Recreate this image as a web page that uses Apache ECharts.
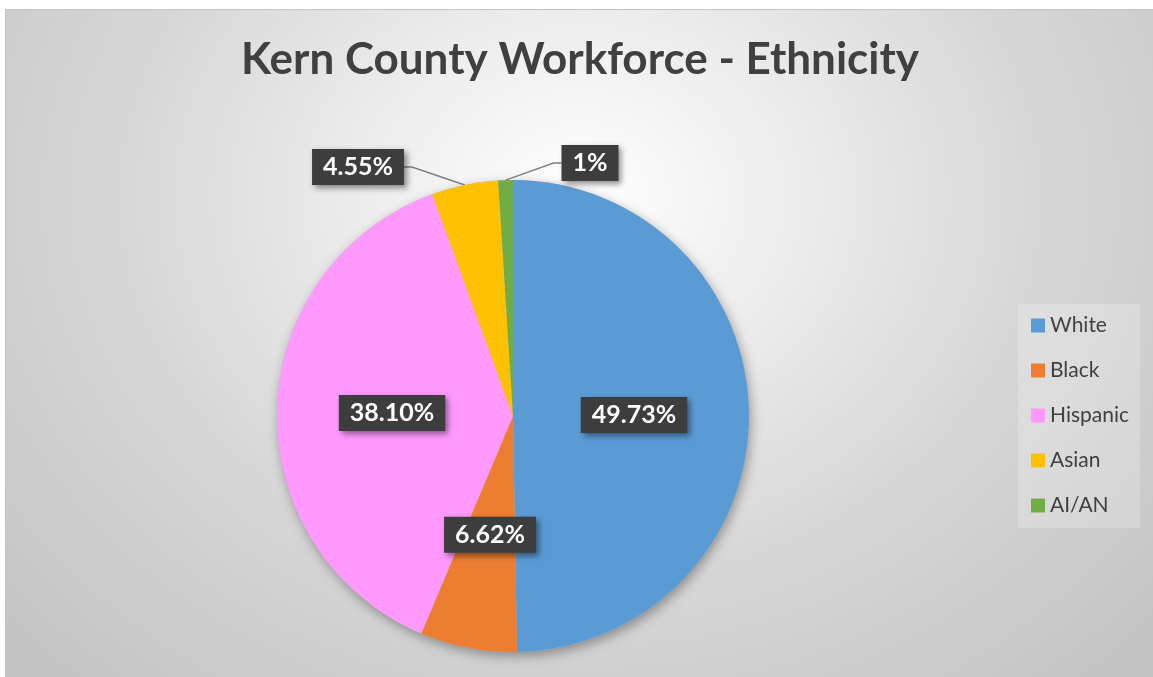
<!DOCTYPE html>
<html>
<head>
<meta charset="utf-8">
<script src="https://cdn.jsdelivr.net/npm/echarts@6/dist/echarts.min.js"></script>
<style>
  html, body { margin: 0; padding: 0; background: #fff; }
  #chart {
    position: absolute; left: 5px; top: 9px; width: 1148px; height: 668px;
    border-top: 1px solid #c4c4c4; border-left: 1px solid #c4c4c4;
    background: radial-gradient(ellipse farthest-corner at 50% 28%, #ffffff 0%, #f0f0f0 22%, #d6d6d6 58%, #c2c2c2 100%);
  }
</style>
</head>
<body>
<div id="chart"></div>
<script>
const categories = ['White', 'Black', 'Hispanic', 'Asian', 'AI/AN']
const shares = [49.73, 6.62, 38.10, 4.55, 1]
const sliceLabels = ['49.73%', '6.62%', '38.10%', '4.55%', '1%']
const colors = ['#5B9BD5', '#ED7D31', '#FF99FF', '#FFC000', '#70AD47']

const chart = echarts.init(document.getElementById('chart'), null, { renderer: 'canvas' })

const labelBox = {
    color: '#fff',
    fontFamily: 'Lato',
    fontWeight: 'bold',
    fontSize: 25,
    backgroundColor: '#3d3d3d',
    padding: [6, 11, 5, 11],
    shadowColor: 'rgba(0,0,0,0.45)',
    shadowBlur: 6,
    shadowOffsetX: 3,
    shadowOffsetY: 3
}

// the two small slices get their labels pulled up above the pie
const outsideSpots = {
    3: { x: 352, y: 157 },
    4: { x: 584, y: 153 }
}

let option = {
    title: {
        text: 'Kern County Workforce - Ethnicity',
        left: 'center',
        top: 23,
        textStyle: {
            fontFamily: 'Lato',
            fontWeight: 'bold',
            fontSize: 44,
            color: '#404040'
        }
    },
    color: colors,
    legend: {
        orient: 'vertical',
        left: 1012,
        top: 294,
        padding: [11, 11, 12, 13],
        backgroundColor: 'rgba(255,255,255,0.22)',
        icon: 'rect',
        itemWidth: 14,
        itemHeight: 14,
        itemGap: 24,
        textStyle: { fontFamily: 'Lato', fontSize: 21, color: '#404040' },
        data: categories
    },
    series: [
        {
            // soft shadow under the whole pie
            type: 'pie',
            silent: true,
            center: [507, 406],
            radius: 236,
            label: { show: false },
            itemStyle: {
                color: '#bbb',
                shadowColor: 'rgba(0,0,0,0.35)',
                shadowBlur: 12,
                shadowOffsetX: 2,
                shadowOffsetY: 4
            },
            data: [{ value: 1, name: '' }],
            z: 1
        },
        {
            name: 'Ethnicity',
            type: 'pie',
            center: [507, 406],
            radius: 236,
            startAngle: 90,
            clockwise: true,
            animation: false,
            label: Object.assign({
                position: 'inside',
                formatter: p => sliceLabels[p.dataIndex]
            }, labelBox),
            labelLine: {
                length: 20,
                length2: 8,
                lineStyle: { color: '#7f7f7f', width: 1.5 }
            },
            labelLayout: params => {
                const s = outsideSpots[params.dataIndex]
                if (!s) return {}
                return { x: s.x, y: s.y, align: 'center', verticalAlign: 'middle' }
            },
            data: categories.map((c, i) => ({
                name: c,
                value: shares[i],
                label: i >= 3 ? { position: 'outside' } : undefined,
                labelLine: { show: i >= 3 }
            })),
            z: 2
        }
    ]
}

chart.setOption(option)
</script>
</body>
</html>
